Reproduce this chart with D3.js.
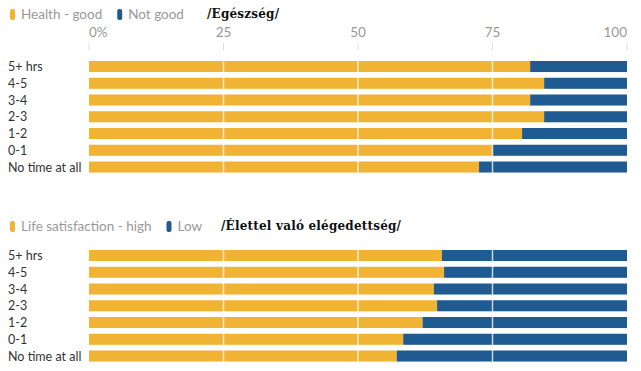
<!DOCTYPE html>
<html>
<head>
<meta charset="utf-8">
<script src="https://cdn.jsdelivr.net/npm/d3@7"></script>
<style>
  body { margin: 0; background: #fff; }
  svg { display: block; font-family: Lato, "Open Sans", sans-serif; }
</style>
</head>
<body>
<div id="chart"></div>
<script>
// time spent online per day
const categories = ['5+ hrs', '4-5', '3-4', '2-3', '1-2', '0-1', 'No time at all'];
// share reporting good health, %
const healthGood = [82, 84.6, 82, 84.6, 80.5, 75, 72.5];
// share reporting high life satisfaction, %
const lifeHigh = [65.6, 66, 64.1, 64.7, 62, 58.4, 57.2];
const tickValues = [0, 25, 50, 75, 100];

const width = 641;
const height = 371;
const yellow = '#f0b334';
const blue = '#1f5b91';

const svg = d3.select('#chart').append('svg')
  .attr('width', width)
  .attr('height', height);

const x = d3.scaleLinear().domain([0, 100]).range([89, 627]);

function legend(g, items, title, titleX) {
  let cx = 10;
  items.forEach((it) => {
    g.append('rect')
      .attr('x', cx).attr('y', -10)
      .attr('width', 5).attr('height', 11)
      .attr('rx', 2)
      .attr('fill', it.color);
    const t = g.append('text')
      .attr('x', cx + 11).attr('y', 0)
      .attr('font-size', 13.5)
      .attr('fill', '#999')
      .text(it.label);
    cx += 11 + t.node().getComputedTextLength() + 15;
  });
  g.append('text')
    .attr('x', titleX).attr('y', -1)
    .attr('font-family', '"DejaVu Serif", serif')
    .attr('font-weight', 'bold')
    .attr('font-size', 12)
    .attr('letter-spacing', 0.2)
    .attr('fill', '#111')
    .text(title);
}

function panel(top, values, showAxis) {
  const g = svg.append('g');
  const y = d3.scaleBand()
    .domain(categories)
    .range([top - 2.85, top - 2.85 + categories.length * 16.75])
    .paddingInner(0.34)
    .paddingOuter(0.17);

  if (showAxis) {
    const axis = g.append('g').attr('class', 'axis');
    axis.selectAll('text')
      .data(tickValues)
      .join('text')
      .attr('x', (d) => x(d))
      .attr('y', 37)
      .attr('font-size', 13.5)
      .attr('fill', '#999')
      .attr('text-anchor', (d, i) => i === 0 ? 'start' : (i === tickValues.length - 1 ? 'end' : 'middle'))
      .text((d, i) => i === 0 ? d + '%' : d);
    axis.selectAll('line')
      .data(tickValues)
      .join('line')
      .attr('x1', (d) => x(d)).attr('x2', (d) => x(d))
      .attr('y1', 43).attr('y2', 50)
      .attr('stroke', '#ddd')
      .attr('stroke-width', 1);
  }

  g.selectAll('text.cat')
    .data(categories)
    .join('text')
    .attr('class', 'cat')
    .attr('x', 8)
    .attr('y', (d) => y(d) + y.bandwidth() / 2)
    .attr('dy', '0.36em')
    .attr('font-size', 12.5)
    .attr('fill', '#333')
    .text((d) => d);

  const rows = g.selectAll('g.row')
    .data(categories.map((c, i) => ({ cat: c, v: values[i] })))
    .join('g')
    .attr('class', 'row');

  rows.append('rect')
    .attr('x', x(0))
    .attr('y', (d) => y(d.cat))
    .attr('width', (d) => x(d.v) - x(0))
    .attr('height', y.bandwidth())
    .attr('fill', yellow);

  rows.append('rect')
    .attr('x', (d) => x(d.v))
    .attr('y', (d) => y(d.cat))
    .attr('width', (d) => x(100) - x(d.v))
    .attr('height', y.bandwidth())
    .attr('fill', blue);

  // white gridlines on top of bars
  g.selectAll('line.grid')
    .data(tickValues.slice(1, -1))
    .join('line')
    .attr('class', 'grid')
    .attr('x1', (d) => x(d)).attr('x2', (d) => x(d))
    .attr('y1', y.range()[0]).attr('y2', y.range()[1])
    .attr('stroke', '#fff')
    .attr('stroke-opacity', 0.75)
    .attr('stroke-width', 1.5);
}

legend(svg.append('g').attr('transform', 'translate(0,19)'),
  [{ label: 'Health - good', color: yellow }, { label: 'Not good', color: blue }],
  '/Egészség/', 207);
panel(61, healthGood, true);

legend(svg.append('g').attr('transform', 'translate(0,231)'),
  [{ label: 'Life satisfaction - high', color: yellow }, { label: 'Low', color: blue }],
  '/Élettel való elégedettség/', 221);
panel(250, lifeHigh, false);
</script>
</body>
</html>
